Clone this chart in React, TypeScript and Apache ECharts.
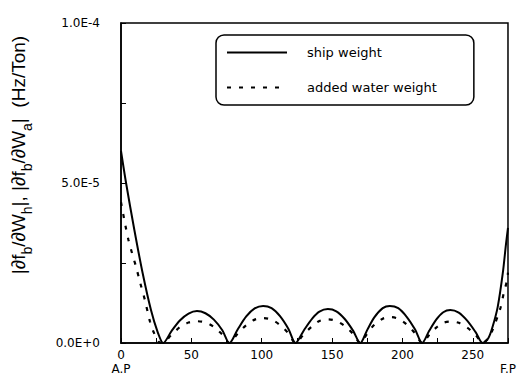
import React, { useEffect, useRef } from "react";
import * as echarts from "echarts";

// Position along the hull (A.P = 0 ... F.P = 275)
const X_MIN = 0;
const X_MAX = 275;
const Y_MAX = 1.0e-4;
const UNIT = 1e-6; // values below are in units of 1E-6 Hz/Ton

const xTickLabels: Record<number, string> = { 0: "0\nA.P", 50: "50", 100: "100", 150: "150", 200: "200", 250: "250", 275: "\nF.P" };
const yTickLabels: Record<number, string> = { 0: "0.0E+0", 2: "5.0E-5", 4: "1.0E-4" };

const seriesNames = ["ship weight", "added water weight"];

const shipX = [0, 3.6, 9.5, 15.4, 21.3, 26, 30, 36, 42, 48, 54, 60, 66, 72, 77, 83, 89, 95, 101, 107, 113, 119, 124, 130, 136, 141, 147, 153, 159, 165, 170, 175, 180, 186, 191, 197, 203, 209, 214, 219, 224, 229, 234, 240, 246, 252, 257, 261, 264, 267.7, 271.3, 273.6, 275];
const shipY = [60, 50, 35.3, 21.8, 10.3, 3.5, 0, 3.8, 7.1, 9.2, 10.0, 9.3, 7.3, 4.0, 0, 4.3, 8.3, 10.8, 11.6, 10.9, 8.4, 4.4, 0, 4.0, 7.7, 9.8, 10.6, 9.9, 7.5, 3.8, 0, 4.1, 8.0, 10.9, 11.6, 10.9, 8.2, 4.2, 0, 3.8, 7.3, 9.6, 10.3, 9.5, 7.0, 3.4, 0, 1.5, 5, 11.3, 21.8, 31, 36];

const waterX = [0, 3, 5.3, 7.9, 10.7, 13.7, 17, 20.6, 23.6, 27, 29, 36, 42, 48, 54, 60, 66, 72, 77, 83, 89, 95, 101, 107, 113, 119, 124, 130, 136, 141, 147, 153, 159, 165, 170, 175, 180, 186, 191, 197, 203, 209, 214, 219, 224, 229, 234, 240, 246, 252, 257, 261, 264, 269.6, 272, 274.4, 275];
const waterY = [44, 37, 32.2, 28, 23.8, 18.7, 13.4, 6.7, 3, 0.3, 0, 2.6, 5.0, 6.4, 6.8, 6.4, 5.0, 2.6, 0, 3.0, 5.6, 7.3, 7.8, 7.3, 5.6, 3.0, 0, 2.8, 5.3, 6.9, 7.4, 6.9, 5.3, 2.8, 0, 3.0, 5.7, 7.6, 8.1, 7.6, 5.8, 3.0, 0, 2.5, 4.8, 6.3, 6.7, 6.3, 4.8, 2.5, 0, 1.5, 4, 10.9, 15.6, 19.7, 22];

const FONT = "DejaVu Sans";

export default function App() {
  const ref = useRef<HTMLDivElement>(null);
  useEffect(() => {
    document.body.style.margin = "0";
    if (!ref.current) return;
    const chart = echarts.init(ref.current, null, { renderer: "svg" });
    const toPairs = (xs: number[], ys: number[]) => xs.map((x, i) => [x, ys[i] * UNIT]);
    chart.setOption({
      animation: false,
      backgroundColor: "#fff",
      grid: { left: 121, top: 23, right: 9, bottom: 35, show: true, borderColor: "#000", borderWidth: 1.5 },
      xAxis: {
        type: "value",
        min: X_MIN,
        max: X_MAX,
        interval: 25,
        axisLine: { show: true, lineStyle: { color: "#000", width: 1.5 } },
        axisTick: { show: true, inside: true, length: 5, lineStyle: { color: "#000" } },
        splitLine: { show: false },
        axisLabel: {
          color: "#000",
          fontFamily: FONT,
          fontSize: 12,
          lineHeight: 14,
          margin: 5,
          showMaxLabel: true,
          showMinLabel: true,
          formatter: (v: number) => xTickLabels[Math.round(v)] ?? "",
        },
      },
      yAxis: {
        type: "value",
        min: 0,
        max: Y_MAX,
        interval: 2.5e-5,
        axisLine: { show: true, lineStyle: { color: "#000", width: 1.5 } },
        axisTick: { show: true, inside: true, length: 5, lineStyle: { color: "#000" } },
        splitLine: { show: false },
        axisLabel: {
          color: "#000",
          fontFamily: FONT,
          fontSize: 12,
          margin: 21,
          formatter: (v: number) => yTickLabels[Math.round(v / 2.5e-5)] ?? "",
        },
      },
      legend: {
        orient: "vertical",
        left: 216,
        top: 35,
        padding: [11, 37, 11, 10],
        itemWidth: 60,
        itemHeight: 14,
        itemGap: 22,
        borderColor: "#000",
        borderWidth: 1.5,
        borderRadius: 8,
        itemStyle: { opacity: 0 },
        textStyle: { color: "#000", fontFamily: FONT, fontSize: 13, padding: [0, 0, 0, 15] },
        data: seriesNames,
      },
      graphic: [
        {
          type: "text",
          x: 21,
          y: 155,
          rotation: Math.PI / 2,
          style: {
            text: "{n||∂f}{s|b}{n|/∂W}{s|h}{n||, |∂f}{s|b}{n|/∂W}{s|a}{n||  (Hz/Ton)}",
            align: "center",
            verticalAlign: "middle",
            fill: "#000",
            fontFamily: "Liberation Sans",
            fontSize: 19,
            rich: {
              n: { fontSize: 19, fontFamily: "Liberation Sans", lineHeight: 25, verticalAlign: "top", fill: "#000" },
              s: { fontSize: 14, fontFamily: "Liberation Sans", lineHeight: 25, verticalAlign: "bottom", fill: "#000" },
            },
          },
        },
      ],
      series: [
        {
          name: seriesNames[0],
          type: "line",
          symbol: "none",
          smooth: 0.3,
          data: toPairs(shipX, shipY),
          lineStyle: { color: "#000", width: 2 },
          itemStyle: { color: "#000" },
        },
        {
          name: seriesNames[1],
          type: "line",
          symbol: "none",
          smooth: 0.3,
          data: toPairs(waterX, waterY),
          lineStyle: { color: "#000", width: 2.2, type: [4, 8] },
          itemStyle: { color: "#000" },
        },
      ],
    });
    return () => chart.dispose();
  }, []);
  return <div ref={ref} style={{ width: 519, height: 378 }} />;
}
